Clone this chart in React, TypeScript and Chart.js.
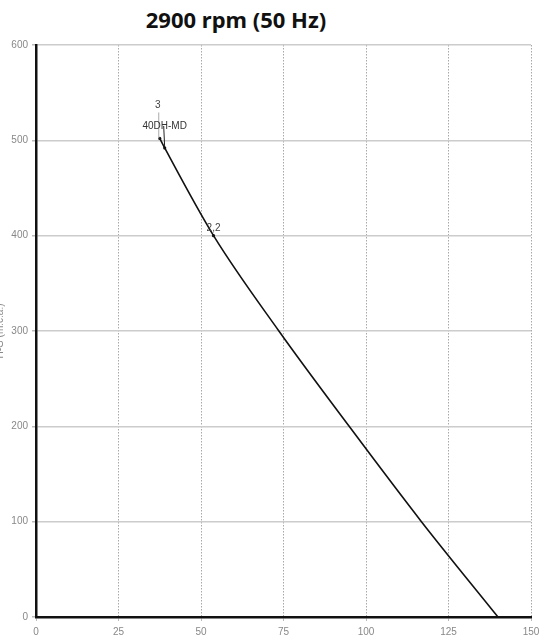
import React, { useEffect, useRef } from "react";
import { Chart, registerables } from "chart.js";

Chart.register(...registerables);

const title = "2900 rpm (50 Hz)";
const yTitle = "H-G (m.c.a.)";
const curveName = "40DH-MD";
const flow = [37.5, 39, 53.8, 73.6, 94.9, 116.8, 140];
const head = [502, 492, 400, 300, 200, 100, 0];
const powerLabels = ["3", "2,2"];
const powerFlow = [37.5, 53.8];
const powerHead = [502, 400];
const xTicks = [0, 25, 50, 75, 100, 125, 150];

const annotate = {
  id: "annotate",
  afterDatasetsDraw(chart: any) {
    const { ctx, scales } = chart;
    const xs = scales.x, ys = scales.y;
    ctx.save();
    ctx.fillStyle = "#444";
    ctx.strokeStyle = "#333";
    ctx.lineWidth = 1;
    ctx.font = "10px 'Liberation Sans', Arial, sans-serif";
    ctx.textAlign = "center";
    ctx.textBaseline = "bottom";
    powerLabels.forEach((lab, i) => {
      const px = xs.getPixelForValue(powerFlow[i]);
      const py = ys.getPixelForValue(powerHead[i]);
      ctx.beginPath();
      ctx.arc(px, py, 1.6, 0, Math.PI * 2);
      ctx.fillStyle = "#111";
      ctx.fill();
      ctx.fillStyle = "#444";
      if (i === 0) {
        ctx.strokeStyle = "#aaa";
        ctx.beginPath();
        ctx.moveTo(px - 1, py);
        ctx.lineTo(px - 1, py - 26);
        ctx.stroke();
        ctx.fillText(lab, px - 2, py - 28);
      } else {
        ctx.fillText(lab, px, py - 2);
      }
    });
    const nx = xs.getPixelForValue(flow[1]);
    const ny = ys.getPixelForValue(head[1]);
    ctx.strokeStyle = "#222";
    ctx.beginPath();
    ctx.moveTo(nx, ny);
    ctx.lineTo(nx - 1, ny - 22);
    ctx.stroke();
    ctx.beginPath();
    ctx.arc(nx, ny, 1.6, 0, Math.PI * 2);
    ctx.fillStyle = "#111";
    ctx.fill();
    ctx.fillStyle = "#333";
    ctx.fillText(curveName, nx, ny - 17);
    ctx.restore();
  },
};

export default function App() {
  const ref = useRef<HTMLCanvasElement | null>(null);
  useEffect(() => {
    if (!ref.current) return;
    const chart = new Chart(ref.current, {
      type: "line",
      data: {
        datasets: [
          {
            data: flow.map((x, i) => ({ x, y: head[i] })),
            borderColor: "#111",
            borderWidth: 1.6,
            pointRadius: 0,
            cubicInterpolationMode: "monotone",
            fill: false,
          },
        ],
      },
      plugins: [annotate],
      options: {
        animation: false,
        responsive: false,
        maintainAspectRatio: false,
        layout: { padding: { top: 45, right: 22, left: 0, bottom: 0 } },
        plugins: { legend: { display: false }, tooltip: { enabled: false } },
        scales: {
          x: {
            type: "linear",
            min: 0,
            max: 150,
            afterBuildTicks: (s: any) => {
              s.ticks = xTicks.map((v) => ({ value: v }));
            },
            afterFit: (s: any) => {
              s.height = 24;
            },
            grid: { color: "#a8a8a8", lineWidth: 1, tickLength: 4, tickColor: "#bbb" },
            border: { color: "#111", width: 2.5, dash: [1.5, 1.5] },
            ticks: {
              color: "#888",
              font: { size: 10, family: "'Liberation Sans', Arial, sans-serif" },
              padding: 5,
              maxRotation: 0,
            },
          },
          y: {
            min: 0,
            max: 600,
            afterFit: (s: any) => {
              s.width = 42;
            },
            grid: { color: "#ccc", lineWidth: 1.5, tickLength: 4, tickColor: "#bbb" },
            border: { color: "#111", width: 2.5 },
            ticks: {
              stepSize: 100,
              color: "#888",
              font: { size: 10, family: "'Liberation Sans', Arial, sans-serif" },
              padding: 4,
            },
            title: {
              display: true,
              text: yTitle,
              color: "#888",
              font: { size: 10, family: "'Liberation Sans', Arial, sans-serif" },
              padding: { top: 0, bottom: 0 },
            },
          },
        },
      },
    } as any);
    return () => chart.destroy();
  }, []);
  return (
    <div style={{ position: "fixed", left: 0, top: 0, width: 553, height: 641, overflow: "hidden", background: "#fff" }}>
      <div
        style={{
          position: "absolute",
          left: 116,
          top: 5,
          width: 240,
          textAlign: "center",
          fontFamily: "'Noto Sans', sans-serif",
          fontWeight: 700,
          fontSize: 22,
          lineHeight: "28px",
          color: "#111",
          whiteSpace: "nowrap",
        }}
      >
        {title}
      </div>
      <canvas ref={ref} width={559} height={641} style={{ position: "absolute", left: -6, top: 0 }} />
    </div>
  );
}
